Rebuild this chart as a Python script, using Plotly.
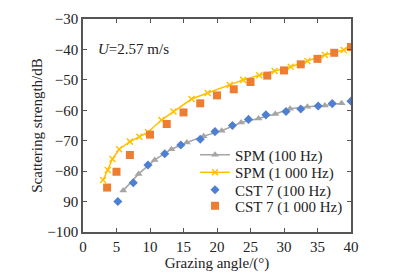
import plotly.graph_objects as go

# SPM (100 Hz)
spm100_x = [6.0, 8.3, 10.7, 13.2, 15.5, 18.0, 20.7, 23.6, 26.2, 28.7, 30.9, 33.5, 36.1, 38.6]
spm100_y = [-86.4, -80.9, -76.3, -72.8, -70.6, -68.5, -66.7, -64.0, -62.7, -61.2, -59.5, -58.8, -58.4, -57.7]
# SPM (1000 Hz)
spm1000_x = [3.0, 3.7, 4.4, 5.4, 7.0, 8.4, 9.7, 11.7, 13.5, 16.2, 18.6, 21.9, 23.9, 26.3, 28.6, 31.0, 33.5, 36.1, 38.9, 40.0]
spm1000_y = [-82.9, -79.6, -76.0, -72.8, -70.3, -68.7, -67.2, -63.2, -60.4, -56.3, -54.3, -51.7, -50.0, -48.5, -47.1, -45.7, -43.8, -41.8, -40.2, -39.1]
# CST 7 (100 Hz)
cst100_x = [5.2, 7.5, 9.7, 12.2, 14.6, 17.5, 19.7, 22.3, 24.7, 27.3, 30.3, 32.5, 35.1, 37.2, 40.0]
cst100_y = [-90.0, -83.8, -78.0, -74.3, -71.4, -69.5, -67.0, -65.0, -63.0, -61.5, -60.4, -59.6, -58.6, -57.8, -57.0]
# CST 7 (1000 Hz)
cst1000_x = [3.6, 5.0, 7.0, 10.0, 12.5, 15.0, 17.5, 20.0, 22.5, 25.0, 27.5, 30.0, 32.5, 35.0, 37.5, 40.0]
cst1000_y = [-85.4, -80.2, -74.7, -68.0, -64.5, -60.7, -57.7, -55.1, -53.1, -50.7, -48.6, -46.9, -44.9, -43.1, -41.1, -39.2]

x_ticks = [0, 5, 10, 15, 20, 25, 30, 35, 40]
y_ticks = [-100, -90, -80, -70, -60, -50, -40, -30]
y_tick_text = ["\u2212100", "90", "\u221280", "\u221270", "\u221260", "\u221250", "\u221240", "\u221230"]

serif = "Liberation Serif, Times New Roman, serif"
txt = "#222222"

fig = go.Figure()
fig.add_trace(go.Scatter(x=spm100_x, y=spm100_y, mode="lines+markers", name="SPM (100 Hz)",
                         line=dict(color="#a5a5a5", width=1.5),
                         marker=dict(symbol="triangle-up", size=7, color="#a5a5a5"),
                         legend="legend"))
fig.add_trace(go.Scatter(x=spm1000_x, y=spm1000_y, mode="lines+markers", name="SPM (1 000 Hz)",
                         line=dict(color="#ffc000", width=1.5),
                         marker=dict(symbol="x-thin", size=6, color="#ffc000",
                                     line=dict(color="#ffc000", width=1.5)),
                         legend="legend2"))
fig.add_trace(go.Scatter(x=cst100_x, y=cst100_y, mode="markers", name="CST 7 (100 Hz)",
                         marker=dict(symbol="diamond", size=7, color="#4f7fd0"),
                         legend="legend3"))
fig.add_trace(go.Scatter(x=cst1000_x, y=cst1000_y, mode="markers", name="CST 7 (1 000 Hz)",
                         marker=dict(symbol="square", size=8, color="#ed7d31"),
                         legend="legend4"))

axis_common = dict(showline=True, linecolor="#555555", linewidth=1.5, mirror="ticks",
                   ticks="inside", ticklen=4, tickcolor="#555555", tickwidth=1.2,
                   showgrid=False, zeroline=False, automargin=False,
                   tickfont=dict(family=serif, size=15, color=txt))

fig.update_xaxes(range=[0, 40], tickvals=x_ticks,
                 title=dict(text="Grazing angle/(°)", font=dict(family=serif, size=15, color=txt), standoff=1),
                 **axis_common)
fig.update_yaxes(range=[-100, -30], tickvals=y_ticks, ticktext=y_tick_text,
                 title=dict(text="Scattering strength/dB", font=dict(family=serif, size=15, color=txt), standoff=1),
                 **axis_common)

fig.add_annotation(x=2.0, y=-40, xref="x", yref="y", xanchor="left", yanchor="middle",
                   text="<i>U</i>=2.57 m/s", showarrow=False,
                   font=dict(family=serif, size=15, color=txt))

leg_common = dict(x=0.418, xanchor="left", yanchor="middle", bgcolor="rgba(0,0,0,0)", borderwidth=0,
                  font=dict(family=serif, size=15, color=txt), itemwidth=30)

fig.update_layout(
    width=402, height=269,
    margin=dict(l=75, r=59, t=11, b=45),
    paper_bgcolor="white", plot_bgcolor="white",
    showlegend=True,
    legend=dict(y=0.362, **leg_common),
    legend2=dict(y=0.279, **leg_common),
    legend3=dict(y=0.197, **leg_common),
    legend4=dict(y=0.122, **leg_common),
)

fig.write_html("out.html")
